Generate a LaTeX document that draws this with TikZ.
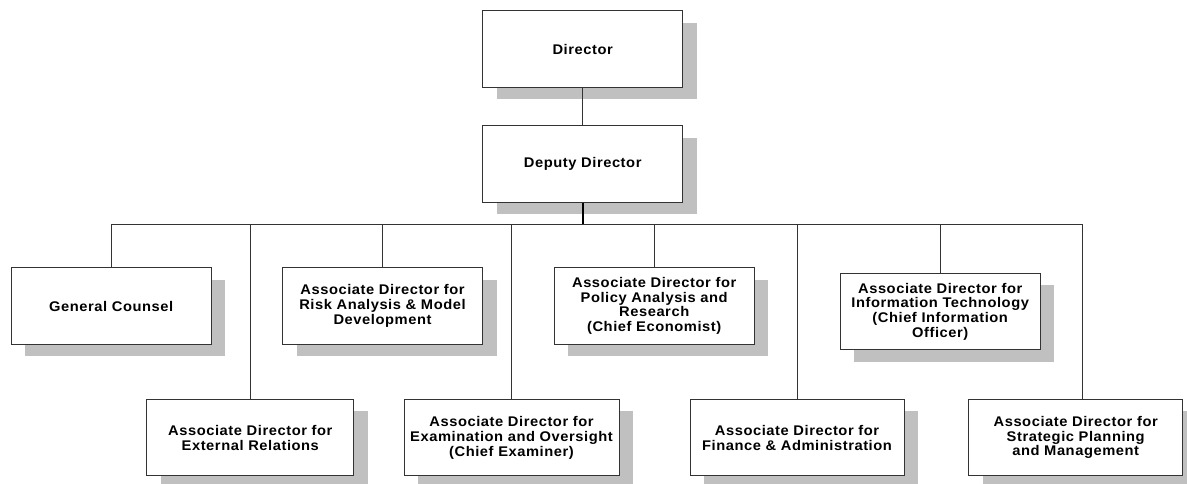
\documentclass[tikz,border=0pt]{standalone}
\usepackage{fontspec}
\setmainfont{Liberation Sans}[LetterSpace=4, FakeStretch=1.05]
\usetikzlibrary{shadows}
\definecolor{shadowgray}{HTML}{C0C0C0}
\definecolor{linegray}{HTML}{333333}
\tikzset{
  orgbox/.style={draw=linegray, line width=1pt, fill=white, inner sep=0pt,
    minimum height=76.5pt, align=center,
    font=\bfseries\fontsize{14}{14.7}\selectfont,
    drop shadow={shadow xshift=14pt, shadow yshift=-12pt, fill=shadowgray, opacity=1}},
  conn/.style={draw=linegray, line width=1pt},
  busline/.style={draw=black, line width=2pt}
}
\begin{document}
\begin{tikzpicture}[x=1pt, y=-1pt]
\useasboundingbox (0,0) rectangle (1187,483);
\clip (0,0) rectangle (1187,483);
% boxes
\node[orgbox, minimum width=200pt] (dir) at (582.7,49) {Director};
\node[orgbox, minimum width=200pt] (dep) at (582.7,163.8) {Deputy Director};
\node[orgbox, minimum width=200pt] (gc) at (111.2,306) {General Counsel};
\node[orgbox, minimum width=200pt] (risk) at (382.5,306) {Associate Director for\\Risk Analysis \& Model\\Development};
\node[orgbox, minimum width=200pt] (pol) at (654.2,306) {Associate Director for\\Policy Analysis and\\Research\\(Chief Economist)};
\node[orgbox, minimum width=200pt] (it) at (940.2,311.7) {Associate Director for\\Information Technology\\(Chief Information\\Officer)};
\node[orgbox, minimum width=207pt] (ext) at (250.3,437.7) {Associate Director for\\External Relations};
\node[orgbox, minimum width=215pt] (exam) at (511.5,437.7) {Associate Director for\\Examination and Oversight\\(Chief Examiner)};
\node[orgbox, minimum width=214pt] (fin) at (797,437.7) {Associate Director for\\Finance \& Administration};
\node[orgbox, minimum width=214pt] (str) at (1075.7,437.7) {Associate Director for\\Strategic Planning\\and Management};
% bus coordinates
\coordinate (busmid) at (582.7,224);
\coordinate (busL) at (111.2,224);
\coordinate (busR) at (1082.7,224);
% connectors
\draw[conn] (dir) -- (dep);
\draw[busline] (dep.south) -- (busmid);
\draw[conn] (busL) -- (busR);
\draw[conn] (gc.north) -- (gc.north |- busL);
\draw[conn] (risk.north) -- (risk.north |- busL);
\draw[conn] (pol.north) -- (pol.north |- busL);
\draw[conn] (it.north) -- (it.north |- busL);
\draw[conn] (ext.north) -- (ext.north |- busL);
\draw[conn] (exam.north) -- (exam.north |- busL);
\draw[conn] (fin.north) -- (fin.north |- busL);
\draw[conn] (busR) -- (busR |- str.north);
\end{tikzpicture}
\end{document}
